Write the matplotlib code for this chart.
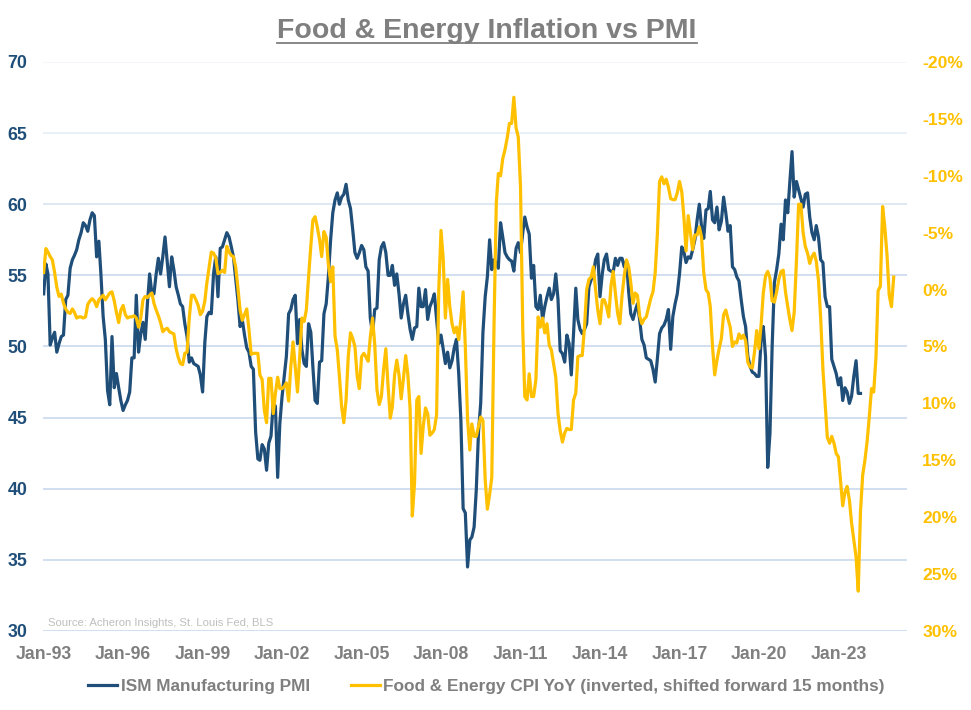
import matplotlib
matplotlib.use("Agg")
import matplotlib.pyplot as plt
import matplotlib.lines as mlines
import pandas as pd

# ISM Manufacturing PMI, monthly, first value Dec-92 then one row per year
pmi_values = [53.7,
    55.8, 55.1, 50.1, 50.6, 51.0, 49.6, 50.2, 50.7, 50.8, 53.3, 53.6, 55.5,  # 1993
    56.1, 56.4, 56.8, 57.5, 58.0, 58.7, 58.5, 58.1, 58.9, 59.4, 59.2, 56.3,  # 1994
    57.4, 55.1, 52.1, 50.5, 46.9, 45.9, 50.7, 47.1, 48.1, 47.1, 46.2, 45.5,  # 1995
    45.9, 46.2, 46.8, 49.2, 49.2, 53.6, 49.6, 50.9, 51.7, 50.5, 53.0, 55.1,  # 1996
    53.7, 53.7, 55.1, 56.2, 55.1, 56.3, 57.7, 55.9, 54.2, 56.3, 55.4, 54.2,  # 1997
    53.6, 53.0, 52.8, 51.6, 50.7, 48.9, 49.2, 48.8, 48.7, 48.6, 48.0, 46.8,  # 1998
    50.3, 52.1, 52.4, 52.3, 55.1, 56.3, 53.5, 56.9, 57.0, 57.5, 58.0, 57.7,  # 1999
    57.0, 56.3, 54.8, 53.3, 51.4, 51.9, 50.8, 49.9, 49.6, 48.6, 48.4, 44.0,  # 2000
    42.1, 42.0, 43.1, 42.8, 41.3, 43.2, 43.7, 46.0, 45.8, 40.8, 44.6, 46.5,  # 2001
    48.0, 49.3, 52.3, 52.6, 53.3, 53.6, 50.2, 51.9, 49.8, 48.8, 48.6, 51.6,  # 2002
    51.0, 48.6, 46.2, 46.0, 48.9, 49.0, 52.3, 53.0, 54.9, 57.5, 59.4, 60.3,  # 2003
    60.8, 60.0, 60.5, 60.7, 61.4, 60.3, 59.7, 58.2, 56.6, 56.2, 56.6, 57.1,  # 2004
    56.8, 55.6, 55.3, 52.0, 50.9, 52.6, 52.7, 56.1, 57.0, 57.3, 56.6, 55.0,  # 2005
    55.0, 55.7, 54.3, 55.1, 53.7, 52.0, 53.0, 53.6, 52.3, 51.2, 50.5, 51.3,  # 2006
    51.4, 54.1, 52.8, 52.8, 54.0, 51.9, 52.8, 53.2, 53.7, 51.9, 50.2, 50.8,  # 2007
    49.8, 48.8, 49.6, 48.5, 49.0, 49.9, 50.5, 48.1, 44.8, 38.6, 38.3, 34.5,  # 2008
    36.4, 36.6, 37.3, 39.9, 44.0, 46.0, 51.0, 53.5, 54.9, 57.5, 55.4, 56.1,  # 2009
    55.9, 55.5, 58.7, 57.7, 56.6, 56.3, 56.1, 56.0, 55.3, 56.9, 57.3, 56.6,  # 2010
    58.0, 59.1, 58.4, 57.9, 54.8, 55.7, 52.8, 52.6, 53.6, 51.9, 52.8, 53.5,  # 2011
    54.1, 53.3, 53.7, 55.1, 53.3, 49.7, 49.5, 48.9, 50.8, 50.2, 48.0, 50.9,  # 2012
    54.1, 51.9, 51.2, 50.9, 51.2, 51.6, 54.2, 54.7, 55.1, 56.1, 56.5, 53.5,  # 2013
    55.1, 56.1, 56.5, 55.4, 55.3, 55.2, 56.2, 55.7, 56.2, 56.2, 55.6, 56.0,  # 2014
    53.8, 52.3, 51.9, 52.5, 53.0, 51.9, 50.5, 50.1, 49.2, 49.1, 49.0, 48.4,  # 2015
    47.5, 49.1, 50.9, 51.3, 51.5, 51.9, 52.6, 49.8, 52.1, 53.0, 53.7, 55.1,  # 2016
    57.0, 56.7, 55.9, 56.3, 56.2, 56.8, 57.5, 58.9, 60.0, 58.4, 57.6, 59.6,  # 2017
    59.7, 60.9, 58.9, 58.7, 59.8, 58.2, 58.8, 60.5, 59.4, 58.1, 58.5, 55.6,  # 2018
    55.4, 54.9, 54.6, 53.3, 52.1, 51.4, 49.3, 48.6, 48.2, 48.1, 47.9, 47.9,  # 2019
    50.5, 51.4, 49.3, 41.5, 43.9, 50.0, 54.5, 55.4, 56.5, 58.6, 57.5, 60.3,  # 2020
    59.4, 61.5, 63.7, 60.5, 61.6, 61.0, 60.4, 59.8, 60.7, 60.8, 59.1, 58.0,  # 2021
    57.5, 58.5, 57.7, 56.1, 55.9, 53.5, 52.8, 52.8, 49.1, 48.6, 48.1, 47.3,  # 2022
    47.8, 46.2, 47.1, 46.8, 46.0, 46.5, 47.9, 49.0, 46.7, 46.7,              # 2023
]

# Food & Energy CPI YoY (%), already shifted forward 15 months, from Dec-92
cpi_shifted = [-1.5,
    -3.6, -3.3, -2.9, -2.6, -1.5, -0.2, 0.6, 0.4, 1.2, 1.7, 2.0, 2.1,          # 1993
    1.7, 2.0, 2.5, 2.4, 2.4, 2.5, 2.4, 1.3, 1.0, 0.8, 1.0, 1.5,                # 1994
    0.9, 0.7, 0.5, 0.9, 0.6, 0.3, 0.2, 1.0, 2.0, 2.9, 1.8, 1.4,                # 1995
    2.2, 2.5, 2.4, 2.4, 2.3, 2.5, 3.3, 2.5, 0.9, 0.6, 0.7, 0.5,                # 1996
    0.3, 1.2, 1.8, 2.3, 2.9, 3.7, 3.5, 3.4, 3.7, 3.8, 3.9, 5.2,                # 1997
    6.0, 6.5, 6.6, 5.6, 5.5, 2.5, 0.5, 0.5, 0.9, 1.4, 2.2, 1.9,                # 1998
    1.0, -0.6, -2.0, -3.3, -3.2, -2.8, -1.4, -1.5, -1.7, -1.5, -3.8, -3.3,     # 1999
    -3.0, -2.9, -2.0, -0.2, 1.8, 2.7, 2.2, 1.7, 3.5, 5.7, 5.6, 5.6,            # 2000
    5.6, 7.5, 7.9, 10.6, 11.7, 7.8, 7.8, 10.9, 9.1, 7.7, 8.7, 8.7,             # 2001
    8.5, 8.2, 9.8, 6.8, 4.6, 6.8, 9.0, 5.9, 2.5, 2.8, 1.8, -1.1,               # 2002
    -3.8, -6.1, -6.4, -5.5, -4.4, -2.9, -5.1, -4.6, -2.2, -0.7, -2.0, 4.1,     # 2003
    5.3, 7.6, 10.3, 11.7, 9.7, 5.9, 3.8, 4.3, 5.0, 7.6, 8.7, 5.9,              # 2004
    5.6, 5.9, 6.3, 4.2, 2.5, 4.8, 8.8, 10.1, 9.4, 7.0, 5.2, 8.5,               # 2005
    11.3, 10.3, 7.5, 6.2, 7.5, 9.6, 7.8, 5.8, 7.5, 10.5, 19.9, 17.0,           # 2006
    9.7, 9.4, 14.4, 12.0, 10.4, 10.9, 12.8, 12.6, 12.3, 11.0, 0.0, -5.2,       # 2007
    -2.6, 2.5, -0.9, 1.5, 3.0, 3.8, 3.3, 4.4, 2.5, 0.2, 5.0, 11.4,             # 2008
    14.1, 11.8, 12.9, 12.9, 12.0, 11.2, 11.5, 16.7, 19.3, 18.0, 16.5, 3.0,     # 2009
    -7.6, -10.2, -10.0, -11.5, -12.3, -13.3, -14.6, -14.6, -16.9, -14.2, -13.4, -9.0,  # 2010
    3.5, 9.4, 9.7, 7.4, 9.4, 9.4, 7.9, 2.4, 3.3, 2.5, 3.8, 3.0,                # 2011
    4.9, 5.3, 6.5, 7.7, 10.9, 12.4, 13.4, 12.6, 12.2, 12.3, 12.3, 9.7,         # 2012
    9.1, 5.9, 5.8, 5.8, 3.3, 0.0, -0.9, -1.1, -2.0, 0.0, 1.8, 3.0,             # 2013
    0.9, 0.9, 1.5, 2.4, -0.3, -1.6, 0.3, 2.1, 3.0, 0.5, -1.2, -2.6,            # 2014
    -2.0, -0.6, 1.2, 0.3, 0.5, 2.3, 3.0, 2.6, 2.4, 1.6, 0.8, 0.2,              # 2015
    -1.5, -4.8, -9.5, -9.9, -9.3, -9.7, -9.0, -8.0, -7.9, -7.9, -8.5, -9.5,    # 2016
    -8.6, -6.5, -3.4, -6.5, -5.0, -3.5, -4.8, -4.8, -5.5, -4.6, -1.5, 0.0,     # 2017
    0.3, 1.5, 5.0, 7.5, 6.2, 5.2, 4.3, 2.2, 1.8, 2.6, 3.3, 5.0,                # 2018
    4.6, 4.7, 3.9, 4.3, 4.0, 4.5, 6.4, 6.8, 6.9, 5.5, 3.6, 5.2,                # 2019
    3.0, 0.3, -1.2, -1.6, -1.0, 1.0, 1.1, 0.2, -0.9, -1.6, -1.7, 0.2,          # 2020
    1.5, 2.6, 3.6, 2.0, -2.5, -7.5, -7.5, -5.0, -3.8, -3.2, -2.3, -2.9,        # 2021
    -3.2, -2.5, -0.8, 2.5, 7.0, 10.0, 13.0, 13.5, 12.9, 13.5, 14.4, 14.7,      # 2022
    17.0, 19.0, 17.8, 17.3, 18.5, 20.5, 22.0, 23.5, 26.5, 19.5, 16.3, 15.0,    # 2023
    13.3, 11.2, 8.7, 9.0, 6.0, 0.1, -0.3, -7.3, -5.5, -3.0, 0.5, 1.5,          # 2024
    -1.1,                                                                      # 2025
]

pmi_ticks = [30, 35, 40, 45, 50, 55, 60, 65, 70]
cpi_ticks = [-20, -15, -10, -5, 0, 5, 10, 15, 20, 25, 30]
label_years = [1993, 1996, 1999, 2002, 2005, 2008, 2011, 2014, 2017, 2020, 2023]

BLUE = "#1F4E79"
GOLD = "#FFC000"
GREY = "#7F7F7F"
FONT = "Liberation Sans"


def grid_colour(value):
    # the chart's gridlines fade out towards the top
    if value >= 70:
        return "#F0F4F9"
    if value >= 65:
        return "#E4ECF5"
    if value >= 60:
        return "#D6E3F1"
    return "#C3D6EC"


def main():
    plt.rcParams['font.family'] = [FONT, 'DejaVu Sans']

    pmi_dates = pd.date_range("1992-12-31", periods=len(pmi_values), freq="ME")
    cpi_dates = pd.date_range("1992-12-31", periods=len(cpi_shifted), freq="ME")

    fig = plt.figure(figsize=(9.71, 7.10), dpi=100)
    ax = fig.add_axes([0.044, 0.1113, 0.890, 0.8014])
    ax2 = ax.twinx()

    for v in pmi_ticks:
        ax.axhline(v, color=grid_colour(v), lw=1.1, zorder=0)

    ax.plot(pmi_dates, pmi_values, color=BLUE, lw=2.3, label="ISM Manufacturing PMI",
            solid_joinstyle="round")
    ax2.plot(cpi_dates, cpi_shifted, color=GOLD, lw=2.3,
             label="Food & Energy CPI YoY (inverted, shifted forward 15 months)",
             solid_joinstyle="round")

    ax.set_xlim(pd.Timestamp("1992-12-18"), pd.Timestamp("2025-08-01"))
    ax.set_ylim(30, 70)
    ax2.set_ylim(30, -20)

    ax.set_yticks(pmi_ticks)
    ax.set_yticklabels([str(v) for v in pmi_ticks])
    ax2.set_yticks(cpi_ticks)
    ax2.set_yticklabels(["{}%".format(v) for v in cpi_ticks])
    xt = [pd.Timestamp(y, 1, 1) for y in label_years]
    ax.set_xticks(xt)
    ax.set_xticklabels([d.strftime("%b-%y") for d in xt])

    ax.tick_params(axis="y", length=0, pad=11, labelsize=12.8, labelcolor=BLUE)
    ax.tick_params(axis="x", length=0, pad=10.8, labelsize=12.7, labelcolor=GREY)
    ax2.tick_params(axis="y", length=0, pad=11, labelsize=12.6, labelcolor=GOLD)
    for lab in ax.get_xticklabels() + ax.get_yticklabels() + ax2.get_yticklabels():
        lab.set_fontweight("bold")

    for a in (ax, ax2):
        for s in a.spines.values():
            s.set_visible(False)

    ax.text(0.006, 0.014, "Source: Acheron Insights, St. Louis Fed, BLS",
            transform=ax.transAxes, fontsize=8.15, color="#BFBFBF", va="center", ha="left")

    h1, l1 = ax.get_legend_handles_labels()
    h2, l2 = ax2.get_legend_handles_labels()
    leg = fig.legend(h1 + h2, l1 + l2, loc="center", bbox_to_anchor=(0.501, 0.0325),
                     ncol=2, frameon=False, handlelength=1.7, handletextpad=0.2,
                     columnspacing=2.35, prop={"weight": "bold", "size": 12.4})
    for t in leg.get_texts():
        t.set_color(GREY)

    title = fig.text(0.5016, 1 - 38 / 710, "Food & Energy Inflation vs PMI", ha="center",
                     va="baseline", fontsize=20.5, fontweight="bold", color=GREY)
    fig.canvas.draw()
    bb = title.get_window_extent().transformed(fig.transFigure.inverted())
    fig.add_artist(mlines.Line2D([bb.x0, bb.x1], [1 - 42.5 / 710] * 2, color=GREY, lw=1.3,
                                 transform=fig.transFigure))

    fig.savefig("out.png", dpi=100)
    plt.close(fig)


if __name__ == "__main__":
    main()
